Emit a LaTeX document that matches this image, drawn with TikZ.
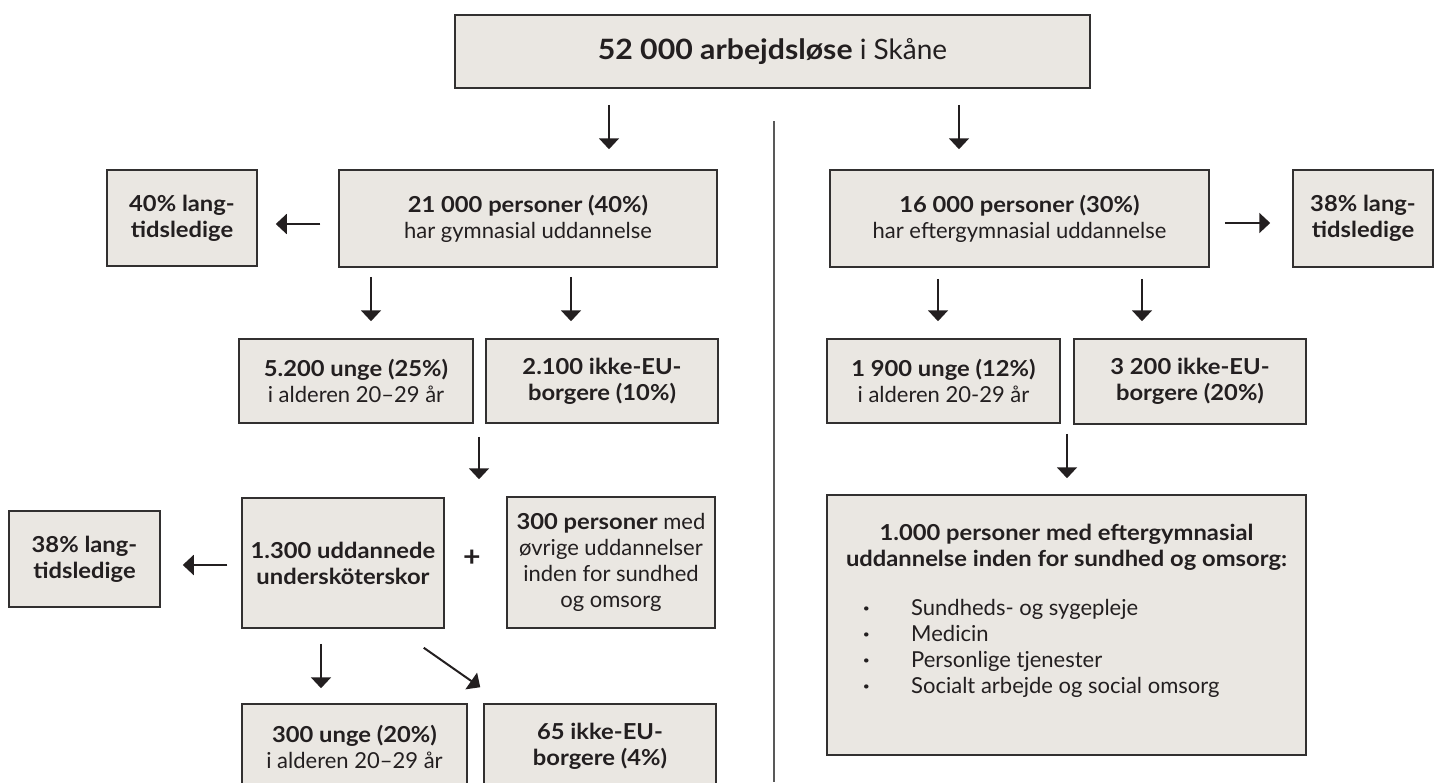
\documentclass[tikz,border=0pt]{standalone}
\usepackage{fontspec}
\setmainfont{Lato}[BoldFeatures={FakeStretch=1.08}]
\usepackage{xcolor}
\usepackage{tikz}
\usetikzlibrary{shapes, arrows.meta, positioning, calc}
\definecolor{boxfill}{RGB}{234,231,226}
\definecolor{boxline}{RGB}{50,48,48}
\definecolor{ink}{HTML}{231F20}

\begin{document}
\begin{tikzpicture}
  [
    x=1pt, y=-1pt,
    Box/.style={rectangle, draw=boxline, fill=boxfill, line width=1.5pt, inner sep=0pt, align=center, text=ink, font=\fontsize{22pt}{26pt}\selectfont},
    Head/.style={Box, font=\fontsize{28pt}{30pt}\selectfont},
    Text/.style={inner sep=0pt, text=ink, font=\fontsize{22pt}{26pt}\selectfont},
    Arrow/.style={-{Triangle[length=11pt, width=20pt]}, draw=ink, line width=2pt},
    Divider/.style={draw=black!65, line width=1.2pt}
  ]
  \useasboundingbox (0, 0) rectangle (1435, 782);
  % Nodes
  \node[Head, minimum width=635pt, minimum height=73pt] (total) at (772.5, 51.5) {\textbf{52 000 arbejdsløse} i Skåne};
  \node[Box, minimum width=378pt, minimum height=97pt] (gym) at (528, 218.5) {\textbf{21 000 personer (40\%)}\\har gymnasial uddannelse};
  \node[Box, minimum width=150pt, minimum height=96pt] (lt1) at (182, 218) {\textbf{40\% lang-}\\\textbf{tidsledige}};
  \node[Box, minimum width=379pt, minimum height=97pt] (eft) at (1019.5, 218.5) {\textbf{16 000 personer (30\%)}\\har eftergymnasial uddannelse};
  \node[Box, minimum width=140pt, minimum height=97pt] (lt2) at (1363, 218.5) {\textbf{38\% lang-}\\\textbf{tidsledige}};
  \node[Box, minimum width=234pt, minimum height=84pt] (unge1) at (356, 381) {\textbf{5.200 unge (25\%)}\\i alderen 20–29 år};
  \node[Box, minimum width=232pt, minimum height=84pt] (ikke1) at (602, 381) {\textbf{2.100 ikke-EU-}\\\textbf{borgere (10\%)}};
  \node[Box, minimum width=233pt, minimum height=84pt] (unge3) at (943.5, 381) {\textbf{1 900 unge (12\%)}\\i alderen 20-29 år};
  \node[Box, minimum width=232pt, minimum height=85pt] (ikke3) at (1190, 381.5) {\textbf{3 200 ikke-EU-}\\\textbf{borgere (20\%)}};
  \node[Box, minimum width=202pt, minimum height=130pt] (usk) at (343, 563) {\textbf{1.300 uddannede}\\\textbf{undersköterskor}};
  \node[Text, font=\fontsize{28pt}{28pt}\selectfont\bfseries] (plus) at (472, 558) {+};
  \node[Box, minimum width=208pt, minimum height=131pt] (ovr) at (611, 562.5) {\textbf{300 personer} med\\øvrige uddannelser\\inden for sundhed\\og omsorg};
  \node[Box, minimum width=151pt, minimum height=96pt] (lt3) at (84.5, 559) {\textbf{38\% lang-}\\\textbf{tidsledige}};
  \node[Box, minimum width=225pt, minimum height=85pt] (unge2) at (354.5, 746.5) {\textbf{300 unge (20\%)}\\i alderen 20–29 år};
  \node[Box, minimum width=232pt, minimum height=85pt] (ikke2) at (600, 746.5) {\textbf{65 ikke-EU-}\\\textbf{borgere (4\%)}};
  \node[Box, minimum width=479pt, minimum height=260pt] (big) at (1066.5, 625) {};
  \node[Text, font=\fontsize{22pt}{26pt}\selectfont\bfseries, align=center] (bigtitle) at (1066.5, 547.5) {1.000 personer med eftergymnasial\\uddannelse inden for sundhed og omsorg:};
  \node[Text, align=left, anchor=west] (biglist) at (863, 648.5) {\makebox[48pt][l]{\textbf{·}}Sundheds- og sygepleje\\\makebox[48pt][l]{\textbf{·}}Medicin\\\makebox[48pt][l]{\textbf{·}}Personlige tjenester\\\makebox[48pt][l]{\textbf{·}}Socialt arbejde og social omsorg};
  \coordinate (divtop) at (774, 121);
  \coordinate (divbot) at (774, 782);
  % Lines
  \path[Divider] (divtop) -- (divbot);
  \path[Arrow, shorten <=16pt, shorten >=20pt] (total.south -| 609,0) -- (gym.north -| 609,0);
  \path[Arrow, shorten <=16pt, shorten >=20pt] (total.south -| 959,0) -- (eft.north -| 959,0);
  \path[Arrow, shorten <=18pt, shorten >=18pt] (gym.west |- 0,224) -- (lt1.east |- 0,224);
  \path[Arrow, shorten <=15pt, shorten >=22pt] (eft.east |- 0,223) -- (lt2.west |- 0,223);
  \path[Arrow, shorten <=9pt, shorten >=17pt] (gym.south -| 371,0) -- (unge1.north -| 371,0);
  \path[Arrow, shorten <=9pt, shorten >=17pt] (gym.south -| 571,0) -- (ikke1.north -| 571,0);
  \path[Arrow, shorten <=11pt, shorten >=17pt] (eft.south -| 938,0) -- (unge3.north -| 938,0);
  \path[Arrow, shorten <=11pt, shorten >=17pt] (eft.south -| 1142,0) -- (ikke3.north -| 1142,0);
  \path[Arrow, shorten <=13pt, shorten >=18pt] (ikke1.south -| 479,0) -- (usk.north -| 479,0);
  \path[Arrow, shorten <=14pt, shorten >=22pt] (usk.west |- 0,565) -- (lt3.east |- 0,565);
  \path[Arrow, shorten <=15pt, shorten >=15pt] (usk.south -| 321,0) -- (unge2.north -| 321,0);
  \path[Arrow] ($(usk.south east)+(-21,19)$) -- ($(ikke2.north west)+(-3,-16)$);
  \path[Arrow, shorten <=9pt, shorten >=16pt] (ikke3.south -| 1067,0) -- (big.north -| 1067,0);
\end{tikzpicture}
\end{document}
